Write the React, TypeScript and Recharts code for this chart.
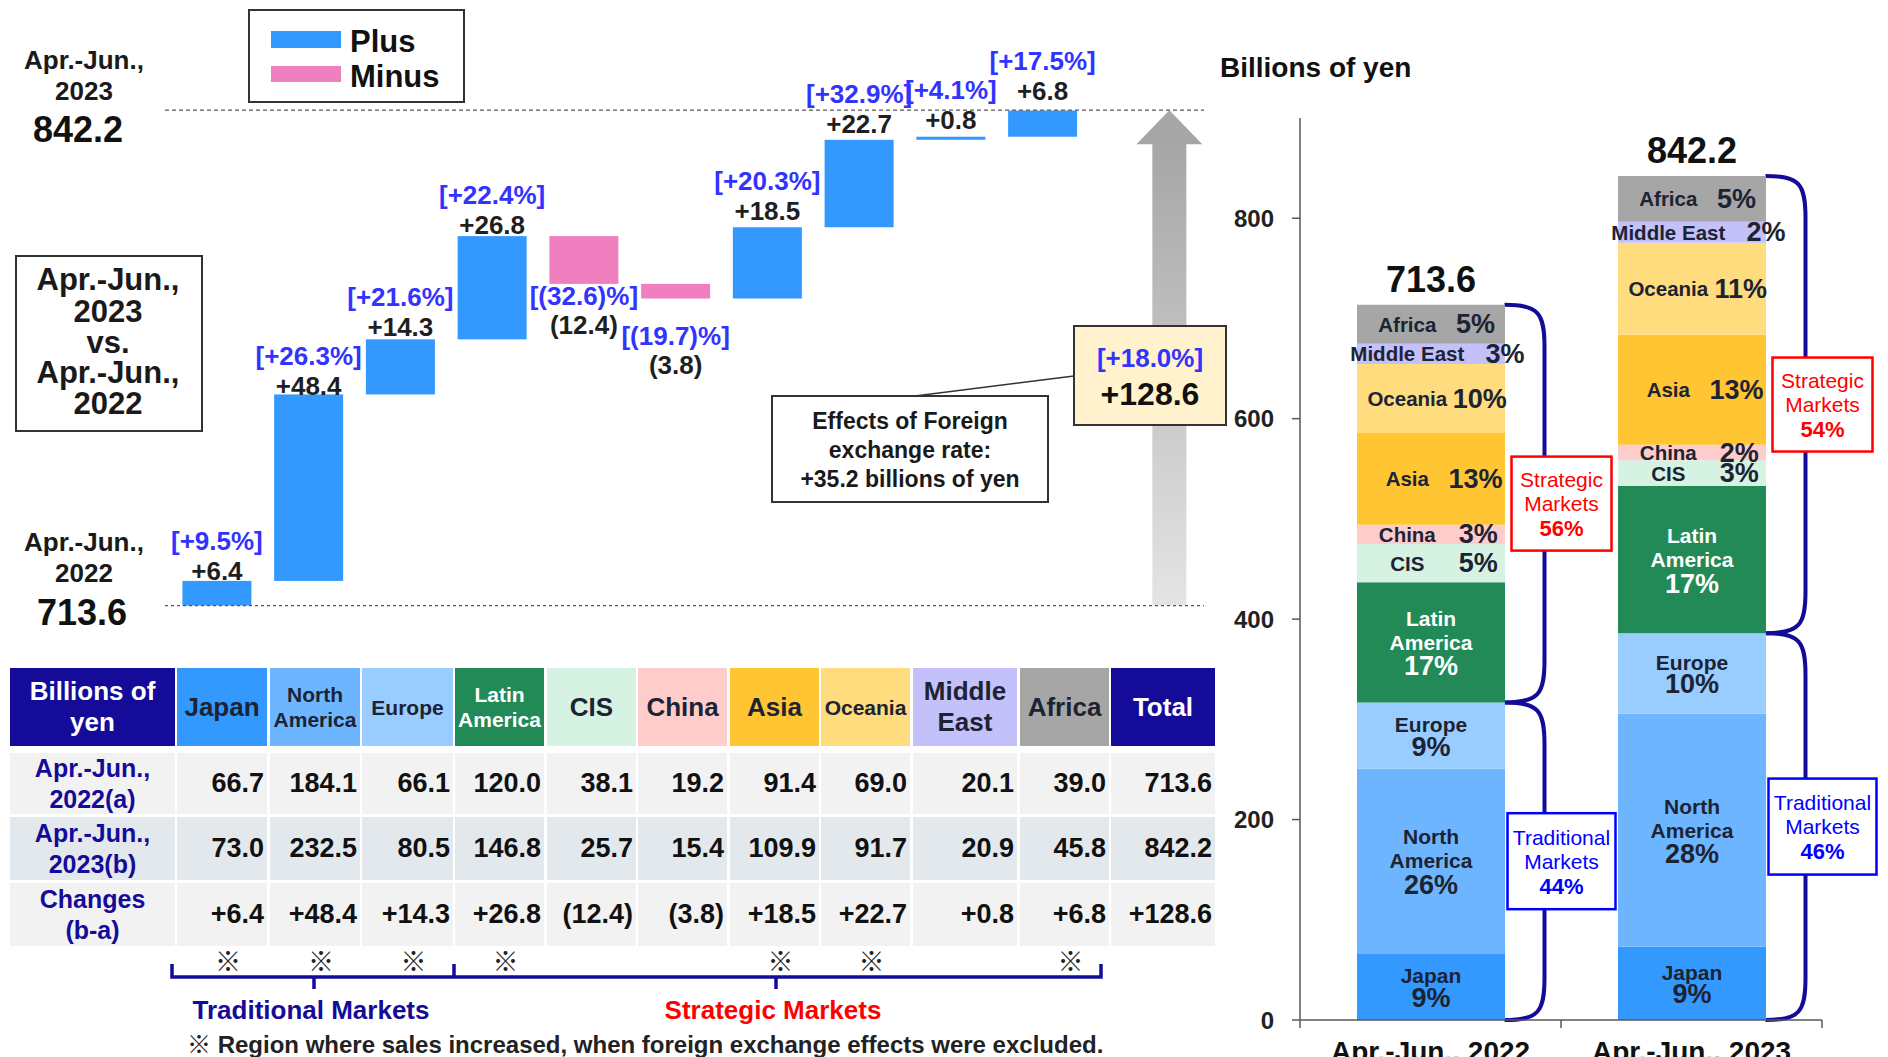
import React from 'react';
import { BarChart, Bar, XAxis, YAxis, LabelList, ReferenceLine, ReferenceArea } from 'recharts';

const FONT = '"Liberation Sans", Arial, "Noto Sans CJK JP", sans-serif';

// ---------------- data ----------------
const regions = ['Japan', 'North America', 'Europe', 'Latin America', 'CIS', 'China', 'Asia', 'Oceania', 'Middle East', 'Africa'];
const sales2022 = [66.7, 184.1, 66.1, 120.0, 38.1, 19.2, 91.4, 69.0, 20.1, 39.0];
const sales2023 = [73.0, 232.5, 80.5, 146.8, 25.7, 15.4, 109.9, 91.7, 20.9, 45.8];
const changes = [6.4, 48.4, 14.3, 26.8, -12.4, -3.8, 18.5, 22.7, 0.8, 6.8];
const changeLabels = ['+6.4', '+48.4', '+14.3', '+26.8', '(12.4)', '(3.8)', '+18.5', '+22.7', '+0.8', '+6.8'];
const changePctLabels = ['[+9.5%]', '[+26.3%]', '[+21.6%]', '[+22.4%]', '[(32.6)%]', '[(19.7)%]', '[+20.3%]', '[+32.9%]', '[+4.1%]', '[+17.5%]'];
const fxExIncrease = [true, true, true, true, false, false, true, true, false, true];
const traditionalCount = 3;
const totals = [713.6, 842.2];
const totalChangeLabel = '+128.6';
const totalChangePct = '[+18.0%]';
const fxEffect = '+35.2';
const periods = ['Apr.-Jun., 2022', 'Apr.-Jun., 2023'];
const rowLabels = [['Apr.-Jun.,', '2022(a)'], ['Apr.-Jun.,', '2023(b)'], ['Changes', '(b-a)']];
const yTicks = [0, 200, 400, 600, 800];

// ---------------- styles ----------------
const PLUS = '#3399ff';
const MINUS = '#f07fbf';
const PCT = '#3333ff';
const NAVY = '#140c99';
const DARK = '#1c2333';
const regionColors = ['#3399ff', '#6db6ff', '#99ccff', '#218a57', '#d5f2e3', '#ffcccc', '#ffc533', '#ffdd7f', '#c4c0fa', '#a6a6a6'];
const regionText = [DARK, DARK, DARK, '#ffffff', DARK, DARK, DARK, DARK, DARK, DARK];
const headerLines = [['Japan'], ['North', 'America'], ['Europe'], ['Latin', 'America'], ['CIS'], ['China'], ['Asia'], ['Oceania'], ['Middle', 'East'], ['Africa']];
const headerSize = [26, 21, 21, 21, 26, 26, 26, 21, 26, 26];
const segNameLines = [['Japan'], ['North', 'America'], ['Europe'], ['Latin', 'America'], ['CIS'], ['China'], ['Asia'], ['Oceania'], ['Middle East'], ['Africa']];
const segStacked = [true, true, true, true, false, false, false, false, false, false];
const segPctPos = [0, 0, 0, 0, 0.82, 0.82, 0.8, 0.83, 1.0, 0.8];
const wfLabelGap = [10, 8, 12, 11, 12, 37, 16, 16, 17, 20];
const colX = [[10, 175], [177, 267], [270, 360], [362, 453], [455, 544], [547, 636], [638, 727], [730, 819], [821, 910], [913, 1017], [1020, 1109], [1111, 1215]];
const rowY = [[668, 746], [753, 814], [817, 880], [883, 946]];
const rowBg = ['#f2f2f2', '#e3e8ed', '#f2f2f2'];

// ---------------- derived chart tables ----------------
let running = totals[0];
const wfData: any[] = regions.map((r, i) => {
  const lo = running;
  running += changes[i];
  return { name: r, range: [Math.min(lo, running), Math.max(lo, running)], up: changes[i] >= 0 };
});
wfData.push({ name: 'Total', range: [totals[0], totals[1]], up: true, total: true });

const stackData = periods.map((p, k) => {
  const row: any = { period: p };
  const vals = k === 0 ? sales2022 : sales2023;
  regions.forEach((r, i) => { row[r] = vals[i]; });
  return row;
});

const T = ({ x, y, size, children, color = '#1a1a1a', weight = 700, anchor = 'middle' }: any) => (
  <text x={x} y={y} fontSize={size} fontWeight={weight} fill={color} textAnchor={anchor} dominantBaseline="central" fontFamily={FONT}>{children}</text>
);

const WfShape = (p: any) => {
  const { x, y, width, height, payload } = p;
  const top = Math.min(y, y + height);
  const h = Math.abs(height);
  if (payload && payload.total) {
    const cx = x + width / 2 + 35;
    const shaftW = 34, headW = 66, headH = 34;
    return (
      <g>
        <defs>
          <linearGradient id="arrowGrad" x1="0" y1="1" x2="0" y2="0">
            <stop offset="0" stopColor="#e4e4e4" />
            <stop offset="1" stopColor="#a6a6a6" />
          </linearGradient>
        </defs>
        <rect x={cx - shaftW / 2} y={top + headH - 1} width={shaftW} height={h - headH + 1} fill="url(#arrowGrad)" />
        <polygon points={`${cx},${top} ${cx + headW / 2},${top + headH} ${cx - headW / 2},${top + headH}`} fill="#a6a6a6" />
      </g>
    );
  }
  return <rect x={x} y={top} width={width} height={Math.max(h, 1)} fill={payload && payload.up ? PLUS : MINUS} />;
};

const WfLabel = (p: any) => {
  const vb = p.viewBox || {};
  const x = p.x ?? vb.x, y = p.y ?? vb.y, width = p.width ?? vb.width, height = p.height ?? vb.height;
  const i = p.index;
  if (i == null || i >= regions.length) return null;
  const top = Math.min(y, y + height), bottom = Math.max(y, y + height);
  const cx = x + width / 2;
  if (changes[i] >= 0) {
    const vy = top - wfLabelGap[i];
    return (
      <g>
        <T x={cx} y={vy} size={26} color="#1f1f1f">{changeLabels[i]}</T>
        <T x={cx} y={vy - 30} size={26} color={PCT}>{changePctLabels[i]}</T>
      </g>
    );
  }
  const py = bottom + wfLabelGap[i];
  return (
    <g>
      <T x={cx} y={py} size={26} color={PCT}>{changePctLabels[i]}</T>
      <T x={cx} y={py + 29} size={26} color="#1f1f1f">{changeLabels[i]}</T>
    </g>
  );
};

const makeSegLabel = (ri: number) => (p: any) => {
  const { x, y, width, height, value, index } = p;
  if (value == null || index == null) return null;
  const pct = Math.round((value / totals[index]) * 100) + '%';
  const cx = x + width / 2;
  const cy = y + height / 2;
  const col = regionText[ri];
  if (segStacked[ri]) {
    const lines = [...segNameLines[ri], pct];
    const n = lines.length;
    const sp = n === 3 ? 24 : 22;
    return (
      <g>
        {lines.map((l, k) => (
          <T key={k} x={cx} y={cy + (k - (n - 1) / 2) * sp} size={k === n - 1 ? 27 : 21} color={col}>{l}</T>
        ))}
      </g>
    );
  }
  return (
    <g>
      <T x={x + width * 0.34} y={cy} size={20.5} color={col}>{segNameLines[ri][0]}</T>
      <T x={x + width * segPctPos[ri]} y={cy} size={27} color={col}>{pct}</T>
    </g>
  );
};

const TotalLabel = (p: any) => {
  const { x, y, width, index } = p;
  if (index == null) return null;
  return <T x={x + width / 2} y={y - 25} size={36} color="#111">{totals[index].toFixed(1)}</T>;
};

const Brace = (p: any) => {
  const { x, y, width, height, kind, pct } = p;
  const cx = x + width / 2;
  const ex = cx + 74;
  const vx = ex + 40;
  const top = y, bot = y + height;
  const r = Math.min(42, height / 2);
  const d = `M ${ex} ${top} C ${vx - 6} ${top} ${vx} ${top + 8} ${vx} ${top + r} L ${vx} ${bot - r} C ${vx} ${bot - 8} ${vx - 6} ${bot} ${ex} ${bot}`;
  const color = kind === 'T' ? '#0000ff' : '#ff0000';
  const bw = kind === 'T' ? 108 : 100, bh = kind === 'T' ? 96 : 94;
  const bx = ex + 57, by = (top + bot) / 2;
  return (
    <g>
      <path d={d} fill="none" stroke={NAVY} strokeWidth={4} />
      <rect x={bx - bw / 2} y={by - bh / 2} width={bw} height={bh} fill="#fff" stroke={color} strokeWidth={2.5} />
      <T x={bx} y={by - 24} size={21} weight={400} color={color}>{kind === 'T' ? 'Traditional' : 'Strategic'}</T>
      <T x={bx} y={by} size={21} weight={400} color={color}>Markets</T>
      <T x={bx} y={by + 25} size={22} color={color}>{pct}%</T>
    </g>
  );
};

const PeriodTick = (p: any) => {
  const { x, y, payload, index } = p;
  const half = (payload && payload.offset) || 130.5;
  return (
    <g>
      <line x1={x - half} y1={y} x2={x - half} y2={y + 8} stroke="#595959" strokeWidth={1.5} />
      {index === periods.length - 1 && <line x1={x + half} y1={y} x2={x + half} y2={y + 8} stroke="#595959" strokeWidth={1.5} />}
      <text x={x} y={y + 41} textAnchor="middle" fontSize={28} fontWeight={700} fill="#111" fontFamily={FONT}>{payload.value}</text>
    </g>
  );
};

const cellStyle = (c: number, r: number, bg: string): React.CSSProperties => ({
  position: 'absolute',
  left: colX[c][0],
  top: rowY[r][0],
  width: colX[c][1] - colX[c][0],
  height: rowY[r][1] - rowY[r][0],
  background: bg,
  display: 'flex',
  alignItems: 'center',
  boxSizing: 'border-box',
  fontFamily: FONT,
  fontWeight: 700,
});

const Table = () => {
  const cells: React.ReactNode[] = [];
  cells.push(
    <div key="h0" style={{ ...cellStyle(0, 0, NAVY), justifyContent: 'center' }}>
      <div style={{ color: '#fff', fontSize: 26, lineHeight: '31px', textAlign: 'center' }}>Billions of<br />yen</div>
    </div>
  );
  regions.forEach((r, i) => {
    cells.push(
      <div key={'h' + (i + 1)} style={{ ...cellStyle(i + 1, 0, regionColors[i]), justifyContent: 'center' }}>
        <div style={{ color: regionText[i], fontSize: headerSize[i], lineHeight: headerSize[i] > 22 ? '31px' : '25px', textAlign: 'center' }}>
          {headerLines[i].map((l, k) => <div key={k}>{l}</div>)}
        </div>
      </div>
    );
  });
  cells.push(
    <div key="h11" style={{ ...cellStyle(11, 0, NAVY), justifyContent: 'center' }}>
      <div style={{ color: '#fff', fontSize: 26 }}>Total</div>
    </div>
  );
  const rows = [
    [...sales2022.map((v) => v.toFixed(1)), totals[0].toFixed(1)],
    [...sales2023.map((v) => v.toFixed(1)), totals[1].toFixed(1)],
    [...changeLabels, totalChangeLabel],
  ];
  rows.forEach((vals, ri) => {
    cells.push(
      <div key={'l' + ri} style={{ ...cellStyle(0, ri + 1, rowBg[ri]), justifyContent: 'center' }}>
        <div style={{ color: NAVY, fontSize: 25, lineHeight: '31px', textAlign: 'center' }}>
          {rowLabels[ri].map((l, k) => <div key={k}>{l}</div>)}
        </div>
      </div>
    );
    vals.forEach((v, ci) => {
      cells.push(
        <div key={'c' + ri + '_' + ci} style={{ ...cellStyle(ci + 1, ri + 1, rowBg[ri]), justifyContent: 'flex-end', paddingRight: 3 }}>
          <div style={{ color: '#111', fontSize: 27 }}>{v}</div>
        </div>
      );
    });
  });
  return <>{cells}</>;
};

export default function App() {
  return (
    <div style={{ position: 'fixed', left: 0, top: 0, width: 1888, height: 1057, overflow: 'hidden', background: '#fff', fontFamily: FONT }}>
      {/* Waterfall */}
      <div style={{ position: 'absolute', left: 165, top: 0 }}>
        <BarChart width={1039} height={660} data={wfData} margin={{ top: 22.3, right: 0, bottom: 21.3, left: 0 }}>
          <XAxis dataKey="name" hide padding={{ left: 6.4, right: 23.4 }} />
          <YAxis hide type="number" domain={[705, 865]} allowDataOverflow />
          <ReferenceLine y={totals[1]} stroke="#555" strokeDasharray="4 3" strokeWidth={1.3} />
          <ReferenceLine y={totals[0]} stroke="#555" strokeDasharray="3 3" strokeWidth={1.3} />
          <Bar dataKey="range" barSize={69} isAnimationActive={false} shape={WfShape}>
            <LabelList dataKey="range" content={WfLabel} />
          </Bar>
        </BarChart>
      </div>

      {/* Stacked composition chart */}
      <div style={{ position: 'absolute', left: 1200, top: 0 }}>
        <BarChart width={688} height={1057} data={stackData} margin={{ top: 118, right: 66, bottom: 0, left: 20 }}>
          <XAxis dataKey="period" height={37} interval={0} tickLine={false} tickSize={0} tickMargin={0}
            axisLine={{ stroke: '#595959', strokeWidth: 1.5 }} tick={(p: any) => <PeriodTick {...p} />} />
          <YAxis type="number" domain={[0, 900]} ticks={yTicks} width={80} tickSize={8} tickMargin={18} allowDataOverflow
            axisLine={{ stroke: '#595959', strokeWidth: 1.5 }} tickLine={{ stroke: '#595959', strokeWidth: 1.5 }}
            tick={{ fontSize: 24, fontWeight: 700, fill: '#222', fontFamily: FONT }} />
          {regions.map((r, i) => (
            <Bar key={r} dataKey={r} stackId="s" fill={regionColors[i]} barSize={148} isAnimationActive={false}>
              <LabelList dataKey={r} content={makeSegLabel(i)} />
              {i === regions.length - 1 && <LabelList dataKey={r} content={TotalLabel} />}
            </Bar>
          ))}
          {periods.map((p, k) => {
            const vals = k === 0 ? sales2022 : sales2023;
            const trad = vals.slice(0, traditionalCount).reduce((a, b) => a + b, 0);
            const tPct = Math.round((trad / totals[k]) * 100);
            const sPct = 100 - tPct;
            return [
              <ReferenceArea key={'t' + k} x1={p} x2={p} y1={0} y2={trad} ifOverflow="visible"
                shape={(sp: any) => <Brace {...sp} kind="T" pct={tPct} />} />,
              <ReferenceArea key={'s' + k} x1={p} x2={p} y1={trad} y2={totals[k]} ifOverflow="visible"
                shape={(sp: any) => <Brace {...sp} kind="S" pct={sPct} />} />,
            ];
          })}
        </BarChart>
      </div>

      {/* Table */}
      <Table />

      {/* Annotations */}
      <svg width={1888} height={1057} style={{ position: 'absolute', left: 0, top: 0, pointerEvents: 'none' }}>
        {/* left labels */}
        <T x={84} y={60} size={26}>Apr.-Jun.,</T>
        <T x={84} y={91} size={26}>2023</T>
        <T x={78} y={129} size={36} color="#111">{totals[1].toFixed(1)}</T>
        <T x={84} y={542} size={26}>Apr.-Jun.,</T>
        <T x={84} y={573} size={26}>2022</T>
        <T x={82} y={612} size={36} color="#111">{totals[0].toFixed(1)}</T>

        {/* comparison box */}
        <rect x={16} y={256} width={186} height={175} fill="#fff" stroke="#333" strokeWidth={2} />
        <T x={108} y={279} size={31}>Apr.-Jun.,</T>
        <T x={108} y={311} size={31}>2023</T>
        <T x={108} y={342} size={31}>vs.</T>
        <T x={108} y={372} size={31}>Apr.-Jun.,</T>
        <T x={108} y={403} size={31}>2022</T>

        {/* legend */}
        <rect x={249} y={10} width={215} height={92} fill="#fff" stroke="#333" strokeWidth={2} />
        <rect x={271} y={31} width={70} height={17} fill={PLUS} />
        <rect x={271} y={66} width={70} height={16} fill={MINUS} />
        <T x={350} y={41} size={31} anchor="start" color="#111">Plus</T>
        <T x={350} y={76} size={31} anchor="start" color="#111">Minus</T>

        {/* callout */}
        <line x1={915} y1={396} x2={1074} y2={376} stroke="#333" strokeWidth={1.5} />
        <rect x={772} y={396} width={276} height={106} fill="#fff" stroke="#333" strokeWidth={2} />
        <T x={910} y={421} size={23}>Effects of Foreign</T>
        <T x={910} y={450} size={23}>exchange rate:</T>
        <T x={910} y={479} size={23}>{fxEffect} billions of yen</T>

        {/* total change box */}
        <rect x={1074} y={326} width={152} height={99} fill="#fff2cc" stroke="#333" strokeWidth={2} />
        <T x={1150} y={358} size={26} color={PCT}>{totalChangePct}</T>
        <T x={1150} y={394} size={32} color="#111">{totalChangeLabel}</T>

        {/* right chart title */}
        <T x={1220} y={67} size={28} anchor="start" color="#111">Billions of yen</T>

        {/* marks below table */}
        {fxExIncrease.map((f, i) => f ? (
          <T key={i} x={(colX[i + 1][0] + colX[i + 1][1]) / 2 + 6} y={962} size={26} weight={700} color="#222">※</T>
        ) : null)}
        <path d="M172,964 L172,977 L1101,977 L1101,964 M454,977 L454,964 M314,977 L314,989 M776,977 L776,989"
          fill="none" stroke={NAVY} strokeWidth={3.5} />
        <T x={311} y={1010} size={26} color={NAVY}>Traditional Markets</T>
        <T x={773} y={1010} size={26} color="#ff0000">Strategic Markets</T>
        <T x={187} y={1044} size={24} anchor="start" color="#222">※ Region where sales increased, when foreign exchange effects were excluded.</T>
      </svg>
    </div>
  );
}
